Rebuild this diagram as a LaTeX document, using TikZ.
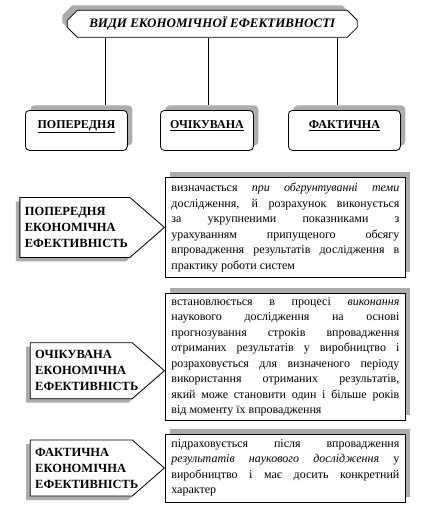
\documentclass[tikz,border=0pt]{standalone}
\usepackage{fontspec}
\setmainfont{Liberation Serif}
\usetikzlibrary{shapes.misc,shapes.symbols,shadows,positioning,calc}
\newcommand{\jl}[1]{{\rightskip=0pt\parfillskip=0pt\relax#1\par}}

\begin{document}
\begin{tikzpicture}[x=1pt, y=-1pt,
        shade/.style={fill=gray!65, opacity=1},
        title/.style={chamfered rectangle, chamfered rectangle xsep=5pt, chamfered rectangle ysep=5pt, draw=black, line width=0.8pt, fill=white, minimum width=290pt, minimum height=27pt, inner sep=0pt, font=\fontsize{13}{15}\selectfont\bfseries\itshape, drop shadow={shade, shadow xshift=-5pt, shadow yshift=5pt}},
        kind/.style={rectangle, rounded corners=4pt, draw=black, line width=0.8pt, fill=white, minimum height=40pt, inner sep=0pt, text height=8pt, text depth=12pt, font=\fontsize{12}{13}\selectfont\bfseries, drop shadow={shade, shadow xshift=5pt, shadow yshift=5pt}},
        tag/.style={signal, signal to=east, signal pointer angle=82, draw=black, line width=0.8pt, fill=white, text width=100pt, inner xsep=5pt, inner ysep=0pt, minimum height=60pt, align=left, font=\fontsize{12.5}{16}\selectfont\bfseries, drop shadow={shade, shadow xshift=-4pt, shadow yshift=-4pt}},
        desc/.style={rectangle, draw=black, line width=0.8pt, fill=white, text width=228pt, align=justify, inner xsep=6pt, inner ysep=2pt, font=\fontsize{12}{15.5}\selectfont, drop shadow={shade, shadow xshift=5pt, shadow yshift=5pt}},
      ]
      \useasboundingbox [fill=white] (0,0) rectangle (435,520);
      \node [title, anchor=north west] (types) at (72,15) {ВИДИ ЕКОНОМІЧНОЇ ЕФЕКТИВНОСТІ};
      \coordinate (k1) at (105,105);
      \coordinate (k2) at (208,105);
      \coordinate (k3) at (337,105);
      \draw [line width=0.8pt] (types.south -| k1) -- (k1);
      \draw [line width=0.8pt] (types.south -| k2) -- (k2);
      \draw [line width=0.8pt] (types.south -| k3) -- (k3);
      \node [kind, anchor=north west, minimum width=102pt] (prelim) at (25,110) {\underline{ПОПЕРЕДНЯ}};
      \node [kind, anchor=north west, minimum width=93pt] (expect) at (160,110) {\underline{ОЧІКУВАНА}};
      \node [kind, anchor=north west, minimum width=112pt] (actual) at (288,110) {\underline{ФАКТИЧНА}};
      \node [desc, anchor=north west, minimum height=100pt] (d1) at (165,177) {\jl{визначається \textit{при обгрунтуванні теми}}\jl{дослідження, й розрахунок виконується}\jl{за укрупненими показниками з}\jl{урахуванням припущеного обсягу}\jl{впровадження результатів дослідження в}практику роботи систем};
      \node [desc, below=15pt of d1, minimum height=127pt] (d2) {\jl{встановлюється в процесі \textit{виконання}}\jl{наукового дослідження на основі}\jl{прогнозування строків впровадження}\jl{отриманих результатів у виробництво і}\jl{розраховується для визначеного періоду}\jl{використання отриманих результатів,}\jl{який може становити один і більше років}від моменту їх впровадження};
      \node [desc, below=13pt of d2, minimum height=68pt] (d3) {\jl{підраховується після впровадження}\jl{\textit{результатів наукового дослідження} у}\jl{виробництво і має досить конкретний}характер};
      \node [tag, anchor=east] (t1) at (d1.west) {ПОПЕРЕДНЯ\\ЕКОНОМІЧНА\\ЕФЕКТИВНІСТЬ};
      \node [tag, anchor=east, text width=92pt, minimum height=56pt] (t2) at ($(d2.west)+(0,14)$) {ОЧІКУВАНА\\ЕКОНОМІЧНА\\ЕФЕКТИВНІСТЬ};
      \node [tag, anchor=east, text width=92pt, minimum height=56pt] (t3) at (d3.west) {ФАКТИЧНА\\ЕКОНОМІЧНА\\ЕФЕКТИВНІСТЬ};
    \end{tikzpicture}
\end{document}
